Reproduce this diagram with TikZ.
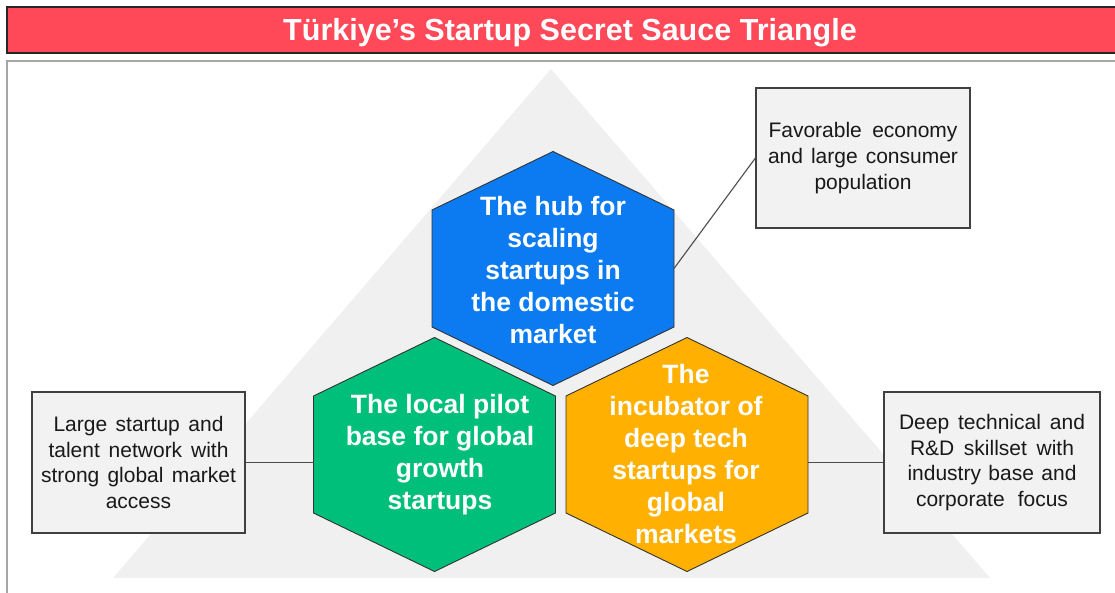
\documentclass[tikz,border=0pt]{standalone}
\usepackage{fontspec}
\setmainfont{Liberation Sans}
\usetikzlibrary{calc}

\definecolor{titlered}{RGB}{255,72,88}
\definecolor{hubblue}{RGB}{12,123,242}
\definecolor{pilotgreen}{RGB}{0,191,122}
\definecolor{techorange}{RGB}{255,176,0}
\definecolor{trigray}{RGB}{240,240,240}
\definecolor{boxgray}{RGB}{242,242,242}
\tikzstyle{hexa} = [draw=black!80, line width=0.9pt]
\newcommand{\spread}[2]{\makebox[#1pt][s]{#2}}

\begin{document}
\begin{tikzpicture}[x=1pt,y=-1pt,
		hextext/.style = {align=center, text=white, inner sep=0pt,
			font=\bfseries\fontsize{26.5}{32}\selectfont},
		fact/.style = {draw=black!75, fill=boxgray, line width=1.2pt,
			minimum width=214pt, minimum height=141pt, inner sep=0pt,
			align=center, text=black!90, font=\fontsize{21}{25.6}\selectfont},
		link/.style = {draw=black!70, line width=1.1pt}]
		\useasboundingbox (0,0) rectangle (1115,593);
		\fill[white] (0,0) rectangle (1115,593);
		% title bar
		\draw[fill=titlered, draw=black!85, line width=1.6pt] (7,7) rectangle (1130,53);
		\node (title) at (570,33) [text=white, font=\bfseries\fontsize{30.5}{34}\selectfont]
			{Türkiye’s Startup Secret Sauce Triangle};
		% frame and background triangle
		\draw[fill=white, draw=black!35, line width=1.5pt] (7,61) rectangle (1130,610);
		\fill[trigray] (551,69) -- (990,578) -- (113,578) -- cycle;
		% hexagons
		\coordinate (hubc) at (553,268.5);
		\coordinate (pilotc) at (434.5,454.5);
		\coordinate (techc) at (687,454.5);
		\draw[hexa, fill=hubblue] (hubc) +(0,-117) -- +(121,-58.5) -- +(121,58.5) -- +(0,117) -- +(-121,58.5) -- +(-121,-58.5) -- cycle;
		\draw[hexa, fill=pilotgreen] (pilotc) +(0,-117) -- +(121,-58.5) -- +(121,58.5) -- +(0,117) -- +(-121,58.5) -- +(-121,-58.5) -- cycle;
		\draw[hexa, fill=techorange] (techc) +(0,-117) -- +(121,-58.5) -- +(121,58.5) -- +(0,117) -- +(-121,58.5) -- +(-121,-58.5) -- cycle;
		\coordinate (hubE) at ($(hubc)+(121,0)$);
		\coordinate (pilotW) at ($(pilotc)+(-121,8)$);
		\coordinate (techE) at ($(techc)+(121,8)$);
		\node (hub) at (553,270) [hextext] {The hub for\\scaling\\startups in\\the domestic\\market};
		\node (pilot) at (440,455) [hextext] {The local pilot\\base for global\\growth\\startups};
		\node (tech) at (686,454) [hextext] {The\\incubator of\\deep tech\\startups for\\global\\markets};
		% fact boxes
		\node (economy) at (863,158) [fact, minimum height=140pt]
			{\spread{189}{Favorable economy}\\\spread{190}{and large consumer}\\population};
		\node (network) at (138.5,462.5) [fact, minimum width=213pt]
			{\spread{170}{Large startup and}\\\spread{180}{talent network with}\\\spread{195}{strong global market}\\access};
		\node (skills) at (992,462.5) [fact, minimum width=216pt]
			{\spread{186}{Deep technical and}\\\spread{164}{R\&D skillset with}\\\spread{169}{industry base and}\\\spread{152}{corporate focus}};
		\draw[link] (hubE) -- (economy.west);
		\draw[link] (network) -- (network -| pilotW);
		\draw[link] (techE) -- (techE -| skills.west);
	\end{tikzpicture}
\end{document}
